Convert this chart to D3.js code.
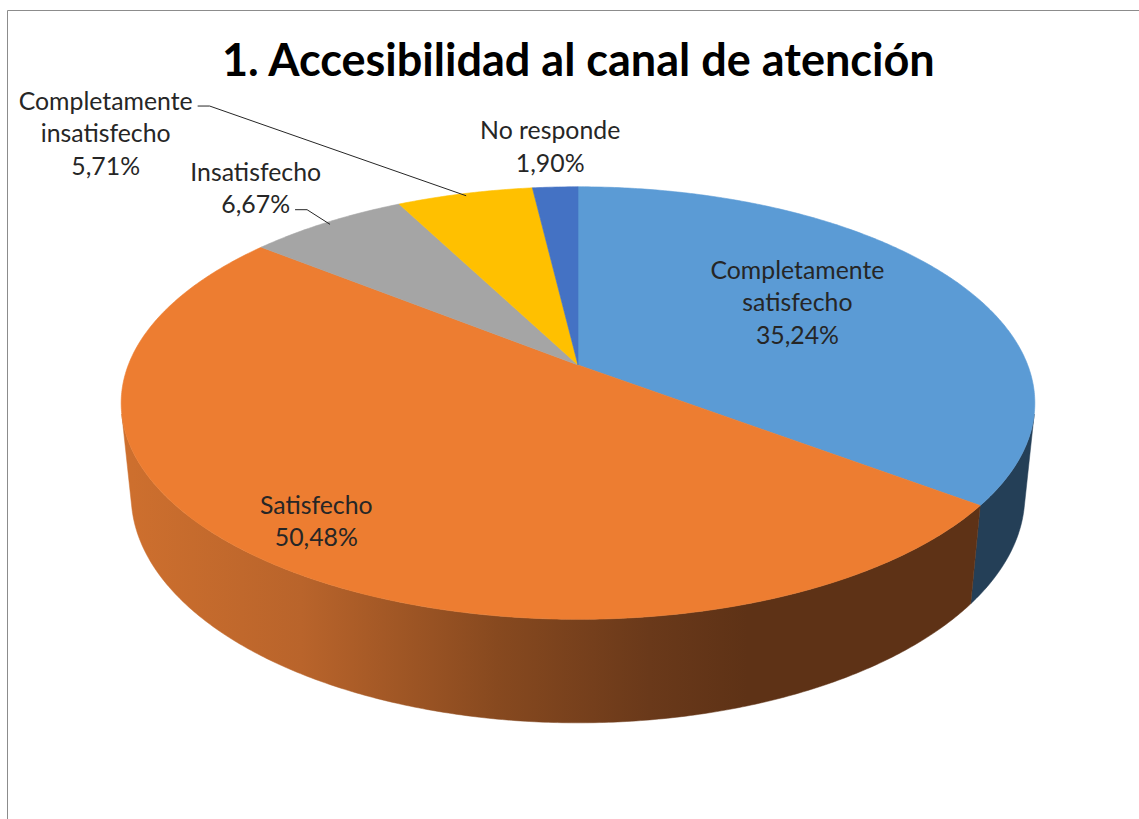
<!DOCTYPE html>
<html>
<head>
<meta charset="utf-8">
<script src="https://cdn.jsdelivr.net/npm/d3@7"></script>
<style>
  body { margin: 0; background: #fff; }
  svg { display: block; }
</style>
</head>
<body>
<div id="outer"></div>
<script>
////////// Data //////////
const categories = ['Completamente satisfecho', 'Satisfecho', 'Insatisfecho', 'Completamente insatisfecho', 'No responde'];
const values = [35.24, 50.48, 6.67, 5.71, 1.90];
const labelLines = [['Completamente', 'satisfecho'], ['Satisfecho'], ['Insatisfecho'], ['Completamente', 'insatisfecho'], ['No responde']];
const colors = ['#5B9BD5', '#ED7D31', '#A5A5A5', '#FFC000', '#4472C4'];
const sideColors = ['#243F57', null, '#636363', '#997300', '#29447A'];
const title = '1. Accesibilidad al canal de atención';

////////// Layout //////////
const width = 1139, height = 819;
// 3d projection, fitted to the picture
const cx = 578, cy = 365;       // where the pie centre lands
const focal = 2262;
const camDist = 5.03;
const sinT = 0.466, cosT = Math.sqrt(1 - sinT * sinT);
const depth3d = 0.234;           // thickness of the pie, in radii

// label placement: inside ones by radius, outside ones by offset from the rim
const labelLayout = [
  { r: 0.57, dx: 0, dy: -12 },
  { r: 0.82, dx: -7, dy: 2 },
  { r: 1.0, dx: -71, dy: -35, leader: 'last' },
  { r: 1.0, dx: -359, dy: -61, leader: 'first' },
  { r: 1.0, dx: -5, dy: -41 }
];
const lineH = 32.5;

const project = (theta, r, Y) => {
  const X = r * Math.sin(theta), Z = r * Math.cos(theta);
  const dd = camDist - Y * sinT + Z * cosT;
  const yc = Y * cosT + Z * sinT;
  return [cx + focal * X / dd, cy - focal * yc / dd];
};

const locale = d3.formatLocale({ decimal: ',', thousands: '.', grouping: [3], currency: ['', ''] });
const fmtPct = v => locale.format('.2f')(v) + '%';

const svg = d3.select('#outer').append('svg')
  .attr('width', width)
  .attr('height', height);

svg.append('rect').attr('width', width).attr('height', height).attr('fill', '#fff');

// chart frame (only left and top edges show)
svg.append('path')
  .attr('d', `M7.5,${height} L7.5,10.5 L${width},10.5`)
  .attr('fill', 'none')
  .attr('stroke', '#8c8c8c')
  .attr('stroke-width', 1);

////////// Title //////////
const titleText = svg.append('text')
  .attr('x', 222)
  .attr('y', 76)
  .style('font-family', 'Lato, "Open Sans", sans-serif')
  .style('font-weight', 'bold')
  .style('font-size', '48px')
  .attr('fill', '#000')
  .text(title);
const tw = titleText.node().getComputedTextLength();
titleText.style('font-size', (48 * 713 / tw) + 'px');

////////// Pie //////////
const arcs = d3.pie().sort(null).startAngle(0).endAngle(2 * Math.PI)(values);
const step = Math.PI / 360;
const rimPoints = (a, b, r, Y) => {
  const n = Math.max(2, Math.ceil((b - a) / step));
  return d3.range(n + 1).map(i => project(a + (b - a) * i / n, r, Y));
};

// visible part of the outer wall
const visA = Math.acos(-1 / (camDist * cosT));
const visB = 2 * Math.PI - visA;
const wallLeft = project(visB, 1, -depth3d)[0];
const wallRight = project(visA, 1, -depth3d)[0];

const defs = svg.append('defs');
const grad = defs.append('linearGradient')
  .attr('id', 'sideGrad')
  .attr('gradientUnits', 'userSpaceOnUse')
  .attr('x1', wallLeft).attr('x2', wallRight)
  .attr('y1', 0).attr('y2', 0);
[[0, '#CD6F2E'], [0.19, '#B9642B'], [0.41, '#87491F'], [0.58, '#6A391A'], [0.69, '#5E3216'], [1, '#5E3216']]
  .forEach(s => grad.append('stop').attr('offset', s[0]).attr('stop-color', s[1]));

const line = d3.line();
const walls = svg.append('g').attr('class', 'walls');
arcs.forEach((d, i) => {
  const a = Math.max(d.startAngle, visA), b = Math.min(d.endAngle, visB);
  if (b <= a) return;
  const pts = rimPoints(a, b, 1, 0).concat(rimPoints(a, b, 1, -depth3d).reverse());
  walls.append('path')
    .attr('d', line(pts) + 'Z')
    .attr('fill', sideColors[i] || 'url(#sideGrad)')
    .attr('stroke', sideColors[i] || 'url(#sideGrad)')
    .attr('stroke-width', 0.5);
});

const tops = svg.append('g').attr('class', 'tops');
arcs.forEach((d, i) => {
  const pts = [project(0, 0, 0)].concat(rimPoints(d.startAngle, d.endAngle, 1, 0));
  tops.append('path')
    .attr('d', line(pts) + 'Z')
    .attr('fill', colors[i])
    .attr('stroke', colors[i])
    .attr('stroke-width', 0.6);
});

////////// Labels //////////
const labels = svg.append('g').attr('class', 'labels')
  .style('font-family', 'Lato, "Open Sans", sans-serif')
  .attr('fill', '#262626');

// size the label font from the width of "Completamente" in the picture
const probe = labels.append('text').style('font-size', '24px').text('Completamente');
const labelSize = 24 * 174 / probe.node().getComputedTextLength();
probe.remove();

arcs.forEach((d, i) => {
  const lay = labelLayout[i];
  const mid = (d.startAngle + d.endAngle) / 2;
  const p = project(mid, lay.r, 0);
  const lx = p[0] + lay.dx, ly = p[1] + lay.dy;
  const lines = labelLines[i].concat([fmtPct(d.data)]);
  const y0 = ly - (lines.length - 1) / 2 * lineH;

  const t = labels.append('text')
    .attr('text-anchor', 'middle')
    .style('font-size', labelSize + 'px');
  const spans = lines.map((s, k) => t.append('tspan')
    .attr('x', lx)
    .attr('y', y0 + k * lineH)
    .attr('dominant-baseline', 'central')
    .text(s));

  if (lay.leader) {
    const k = lay.leader === 'first' ? 0 : lines.length - 1;
    const w = spans[k].node().getComputedTextLength();
    const sx = lx + w / 2 + 5, sy = y0 + k * lineH + 6;
    const end = project(mid, 0.985, 0);
    svg.append('path')
      .attr('d', line([[sx, sy], [sx + 12, sy], end]))
      .attr('fill', 'none')
      .attr('stroke', '#262626')
      .attr('stroke-width', 1);
  }
});
</script>
</body>
</html>
